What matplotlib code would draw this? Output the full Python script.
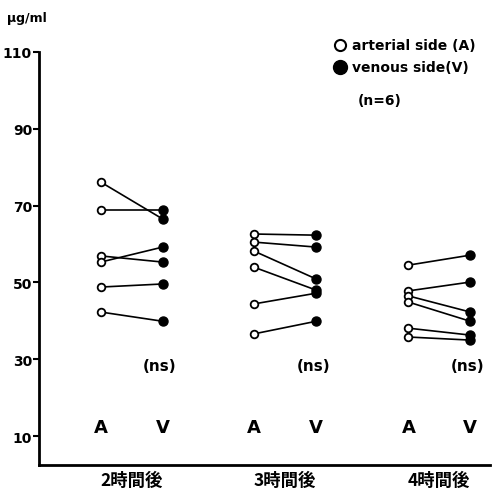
import matplotlib
matplotlib.use("Agg")
import matplotlib.pyplot as plt

plt.rcParams['font.family'] = ['DejaVu Sans', 'Noto Sans CJK JP']

groups = ["2時間後", "3時間後", "4時間後"]
a_pos = [1.0, 3.47, 5.97]
v_pos = [2.0, 4.48, 6.97]

art_2h = [76.1, 68.9, 56.9, 55.3, 48.8, 42.3]
ven_2h = [66.5, 68.9, 55.3, 59.2, 49.6, 39.9]
art_3h = [62.6, 60.5, 58.2, 54.0, 44.4, 36.6]
ven_3h = [62.3, 59.2, 50.9, 48.0, 47.2, 39.9]
art_4h = [54.5, 47.8, 46.5, 44.9, 38.1, 35.8]
ven_4h = [57.1, 50.1, 42.3, 39.9, 36.3, 35.0]

arterial = [art_2h, art_3h, art_4h]
venous = [ven_2h, ven_3h, ven_4h]

yticks = [10, 30, 50, 70, 90, 110]

fig = plt.figure(figsize=(4.93, 4.89), dpi=100)
ax = fig.add_axes([0.079, 0.047, 0.915, 0.845])

for g in range(3):
    for a, v in zip(arterial[g], venous[g]):
        ax.plot([a_pos[g], v_pos[g]], [a, v], color='black', lw=1.2, zorder=1)
    ax.plot([a_pos[g]] * 6, arterial[g], 'o', ms=5.5, mfc='white', mec='black', mew=1.3, zorder=3)
    ax.plot([v_pos[g]] * 6, venous[g], 'o', ms=6.5, mfc='black', mec='black', zorder=3)
    ax.text(a_pos[g], 12.3, "A", ha='center', va='center', fontsize=13, fontweight='bold')
    ax.text(v_pos[g], 12.3, "V", ha='center', va='center', fontsize=13, fontweight='bold')
    ax.text(v_pos[g] - 0.05, 28.5, "(ns)", ha='center', va='center', fontsize=11, fontweight='bold')
    ax.text((a_pos[g] + v_pos[g]) / 2, -0.015, groups[g], transform=ax.get_xaxis_transform(),
            ha='center', va='top', fontsize=12.5, fontweight='bold',
            family=['Noto Sans CJK JP', 'DejaVu Sans'])

ax.set_xlim(0, 7.29)
ax.set_ylim(2.5, 110)
ax.set_yticks(yticks)
ax.set_yticklabels([str(t) for t in yticks], fontsize=10, fontweight='bold')
ax.set_xticks([])
ax.spines['top'].set_visible(False)
ax.spines['right'].set_visible(False)
ax.spines['left'].set_linewidth(2)
ax.spines['bottom'].set_linewidth(2)
ax.tick_params(axis='y', length=4, width=1.5, pad=1)

# legend
ax.plot([0.69], [0.906], 'o', transform=fig.transFigure, ms=8, mfc='white', mec='black', mew=1.5, clip_on=False)
fig.text(0.715, 0.906, "arterial side (A)", ha='left', va='center', fontsize=10, fontweight='bold')
ax.plot([0.69], [0.861], 'o', transform=fig.transFigure, ms=10, mfc='black', mec='black', clip_on=False)
fig.text(0.715, 0.861, "venous side(V)", ha='left', va='center', fontsize=10, fontweight='bold')
fig.text(0.771, 0.793, "(n=6)", ha='center', va='center', fontsize=10, fontweight='bold')
fig.text(0.015, 0.963, "μg/ml", ha='left', va='center', fontsize=9, fontweight='bold')

fig.savefig("out.png", dpi=100)
